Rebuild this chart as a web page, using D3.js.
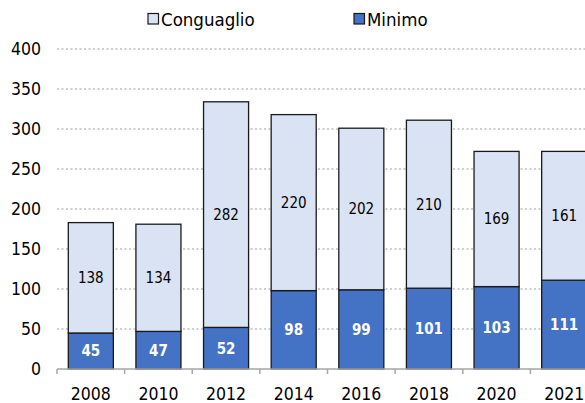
<!DOCTYPE html>
<html>
<head>
<meta charset="utf-8">
<script src="https://cdn.jsdelivr.net/npm/d3@7"></script>
<style>
  html, body { margin: 0; padding: 0; background: #fff; overflow: hidden; }
  svg { display: block; font-family: "DejaVu Sans Condensed", "DejaVu Sans", sans-serif; font-stretch: condensed; }
</style>
</head>
<body>
<svg id="chart" width="585" height="403"></svg>
<script>
// Data
const years = ["2008", "2010", "2012", "2014", "2016", "2018", "2020", "2021"];
const minimo = [45, 47, 52, 98, 99, 101, 103, 111];
const conguaglio = [138, 134, 282, 220, 202, 210, 169, 161];
const yTicks = [0, 50, 100, 150, 200, 250, 300, 350, 400];
const seriesNames = ["Conguaglio", "Minimo"];

const colors = { Minimo: "#4472C4", Conguaglio: "#DAE3F3" };

const svg = d3.select("#chart");
const plotLeft = 57, plotRight = 598, plotTop = 49, plotBottom = 369;

const x = d3.scaleBand()
  .domain(years)
  .range([plotLeft, plotRight])
  .paddingInner(0.334)
  .paddingOuter(0.167);

const y = d3.scaleLinear().domain([0, 400]).range([plotBottom, plotTop]);

// Gridlines (dotted)
svg.append("g")
  .selectAll("line")
  .data(yTicks.filter(t => t > 0))
  .join("line")
  .attr("x1", plotLeft).attr("x2", 585)
  .attr("y1", d => y(d)).attr("y2", d => y(d))
  .attr("stroke", "#bfbfbf")
  .attr("stroke-width", 1.5)
  .attr("stroke-dasharray", "2,2.5");

// Y tick labels
svg.append("g")
  .selectAll("text")
  .data(yTicks)
  .join("text")
  .attr("x", 41)
  .attr("y", d => y(d))
  .attr("dy", "0.36em")
  .attr("text-anchor", "end")
  .attr("font-size", 17.5)
  .attr("fill", "#000")
  .text(d => d);

// Stacked data
const rows = years.map((yr, i) => ({ year: yr, Minimo: minimo[i], Conguaglio: conguaglio[i] }));
const stack = d3.stack().keys(["Minimo", "Conguaglio"]);
const layers = stack(rows);

const barG = svg.append("g");
layers.forEach(layer => {
  barG.selectAll(null)
    .data(layer)
    .join("rect")
    .attr("x", d => x(d.data.year))
    .attr("width", x.bandwidth())
    .attr("y", d => y(d[1]))
    .attr("height", d => y(d[0]) - y(d[1]))
    .attr("fill", colors[layer.key])
    .attr("stroke", "#1a1a1a")
    .attr("stroke-width", 1.3);
});

// Value labels
layers.forEach(layer => {
  const isMin = layer.key === "Minimo";
  barG.selectAll(null)
    .data(layer)
    .join("text")
    .attr("x", d => x(d.data.year) + x.bandwidth() / 2)
    .attr("y", d => y((d[0] + d[1]) / 2))
    .attr("dy", "0.36em")
    .attr("text-anchor", "middle")
    .attr("font-size", 15)
    .attr("font-weight", isMin ? "bold" : "normal")
    .attr("fill", isMin ? "#ffffff" : "#000000")
    .text(d => d[1] - d[0]);
});

// X axis
const xAxis = d3.axisBottom(x).tickSize(0).tickPadding(0);
const axG = svg.append("g").attr("transform", `translate(0,${plotBottom})`);
axG.append("line")
  .attr("x1", plotLeft).attr("x2", 585)
  .attr("y1", 0).attr("y2", 0)
  .attr("stroke", "#a6a6a6").attr("stroke-width", 1.5);
// tick marks between categories
const boundaries = years.map((yr, i) => x(yr) - x.step() * x.paddingInner() / 2 - (i === 0 ? 0 : 0));
axG.selectAll("line.tk")
  .data(d3.range(years.length + 1))
  .join("line")
  .attr("class", "tk")
  .attr("x1", i => plotLeft + i * x.step())
  .attr("x2", i => plotLeft + i * x.step())
  .attr("y1", 0).attr("y2", 5)
  .attr("stroke", "#a6a6a6").attr("stroke-width", 1.5);
axG.selectAll("text.lbl")
  .data(years)
  .join("text")
  .attr("class", "lbl")
  .attr("x", d => x(d) + x.bandwidth() / 2)
  .attr("y", 31)
  .attr("text-anchor", "middle")
  .attr("font-size", 17.5)
  .attr("fill", "#000")
  .text(d => d);

// Legend
const legendPos = { Conguaglio: 148, Minimo: 354 };
const lg = svg.append("g");
seriesNames.forEach(name => {
  const lx = legendPos[name];
  lg.append("rect")
    .attr("x", lx).attr("y", 13.5)
    .attr("width", 10.5).attr("height", 10.5)
    .attr("fill", colors[name])
    .attr("stroke", "#1a1a1a").attr("stroke-width", 1.2);
  lg.append("text")
    .attr("x", lx + 13).attr("y", 19)
    .attr("dy", "0.36em")
    .attr("font-size", 18.5)
    .attr("fill", "#000")
    .text(name);
});
</script>
</body>
</html>
